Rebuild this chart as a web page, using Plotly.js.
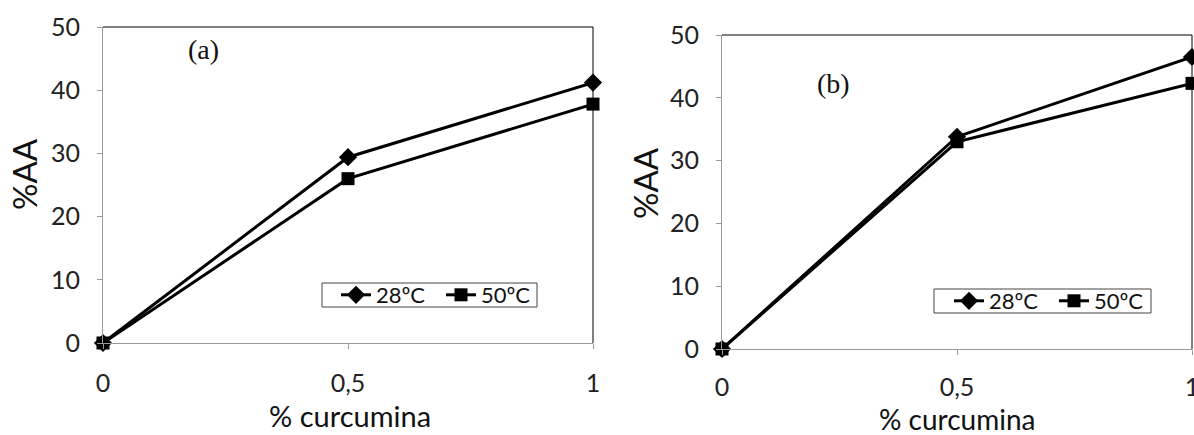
<!DOCTYPE html>
<html>
<head>
<meta charset="utf-8">
<script src="https://cdn.plot.ly/plotly-3.0.1.min.js"></script>
<style>html,body{margin:0;padding:0;background:#fff;}#chart{width:1194px;height:435px;}</style>
</head>
<body>
<div id="chart"></div>
<script>
// Data
const curcumina = [0, 0.5, 1];
const xTickVals = [0, 0.5, 1];
const xTickText = ['0', '0,5', '1'];
const seriesNames = ['28ºC', '50ºC'];
const panelA_28 = [0, 29.4, 41.2];
const panelA_50 = [0, 26.0, 37.8];
const panelB_28 = [0, 33.8, 46.5];
const panelB_50 = [0, 33.0, 42.3];

const FONT = 'Lato, "Open Sans", sans-serif';
const lineStyle = {color: '#000', width: 3};

function tr(y, name, sym, xa, ya, leg) {
  return {
    x: curcumina, y: y, name: name, type: 'scatter', mode: 'lines+markers',
    xaxis: xa, yaxis: ya, legend: leg, cliponaxis: false,
    line: lineStyle,
    marker: {symbol: sym, size: sym === 'square' ? 13 : 14, color: '#000'}
  };
}

const traces = [
  tr(panelA_28, seriesNames[0], 'diamond', 'x', 'y', 'legend'),
  tr(panelA_50, seriesNames[1], 'square', 'x', 'y', 'legend'),
  tr(panelB_28, seriesNames[0], 'diamond', 'x2', 'y2', 'legend2'),
  tr(panelB_50, seriesNames[1], 'square', 'x2', 'y2', 'legend2')
];

const W = 1194, H = 435;
function xa(l, r, anchor, standoff) {
  return {
    domain: [l / W, r / W], range: [0, 1], anchor: anchor,
    tickvals: xTickVals, ticktext: xTickText,
    showline: true, linecolor: '#9a9a9a', linewidth: 1,
    ticks: 'outside', ticklen: 5, tickcolor: '#9a9a9a',
    ticklabelstandoff: standoff, ticklabeloverflow: 'allow',
    showgrid: false, zeroline: false, fixedrange: true,
    tickfont: {family: FONT, size: 25, color: '#222'}
  };
}
function ya(t, b, anchor) {
  return {
    domain: [1 - b / H, 1 - t / H], range: [0, 50], dtick: 10, anchor: anchor,
    showline: true, linecolor: '#9a9a9a', linewidth: 1,
    ticks: 'outside', ticklen: 5, tickcolor: '#9a9a9a',
    ticklabelstandoff: 12,
    showgrid: false, zeroline: false, fixedrange: true,
    tickfont: {family: FONT, size: 25, color: '#222'}
  };
}

function border(xr, yr) {
  return [
    {type: 'line', xref: xr + ' domain', yref: yr + ' domain', x0: 0, x1: 1, y0: 1, y1: 1, line: {color: '#000', width: 1}},
    {type: 'line', xref: xr + ' domain', yref: yr + ' domain', x0: 1, x1: 1, y0: 0, y1: 1, line: {color: '#000', width: 1}}
  ];
}
function legendBox(x0, x1, y0, y1) {
  return {type: 'rect', xref: 'paper', yref: 'paper', layer: 'below',
    x0: x0 / W, x1: x1 / W, y0: 1 - y1 / H, y1: 1 - y0 / H,
    line: {color: '#444', width: 1}, fillcolor: '#fff'};
}

function ann(text, x, y, size, family, angle) {
  return {text: text, x: x / W, y: 1 - y / H, xref: 'paper', yref: 'paper',
    showarrow: false, xanchor: 'center', yanchor: 'middle', textangle: angle || 0,
    font: {family: family, size: size, color: '#111'}};
}

const legendBase = {
  orientation: 'h', xanchor: 'left', yanchor: 'middle',
  bgcolor: 'rgba(0,0,0,0)', borderwidth: 0,
  font: {family: FONT, size: 22, color: '#111'},
  entrywidth: 60, entrywidthmode: 'pixels', tracegroupgap: 0
};

const layout = {
  width: W, height: H, margin: {l: 0, r: 0, t: 0, b: 0},
  paper_bgcolor: '#fff', plot_bgcolor: '#fff', showlegend: true,
  xaxis: xa(103, 593, 'y', 13),
  yaxis: ya(27, 343, 'x'),
  xaxis2: xa(722, 1192, 'y2', 11),
  yaxis2: ya(35, 349, 'x2'),
  legend: Object.assign({}, legendBase, {x: 336 / W, y: 1 - 295 / H}),
  legend2: Object.assign({}, legendBase, {x: 949 / W, y: 1 - 301 / H}),
  shapes: border('x', 'y').concat(border('x2', 'y2'),
    [legendBox(322, 537, 283, 307), legendBox(934, 1151, 289, 313)]),
  annotations: [
    ann('%AA', 24, 174, 33, FONT, -90),
    ann('%AA', 645, 183, 33, FONT, -90),
    ann('% curcumina', 350, 415, 29, FONT),
    ann('% curcumina', 957, 419, 28, FONT),
    ann('(a)', 203, 50, 28, '"Liberation Serif", serif'),
    ann('(b)', 833, 84, 28, '"Liberation Serif", serif')
  ]
};

Plotly.newPlot('chart', traces, layout, {staticPlot: true, displayModeBar: false});
</script>
</body>
</html>
